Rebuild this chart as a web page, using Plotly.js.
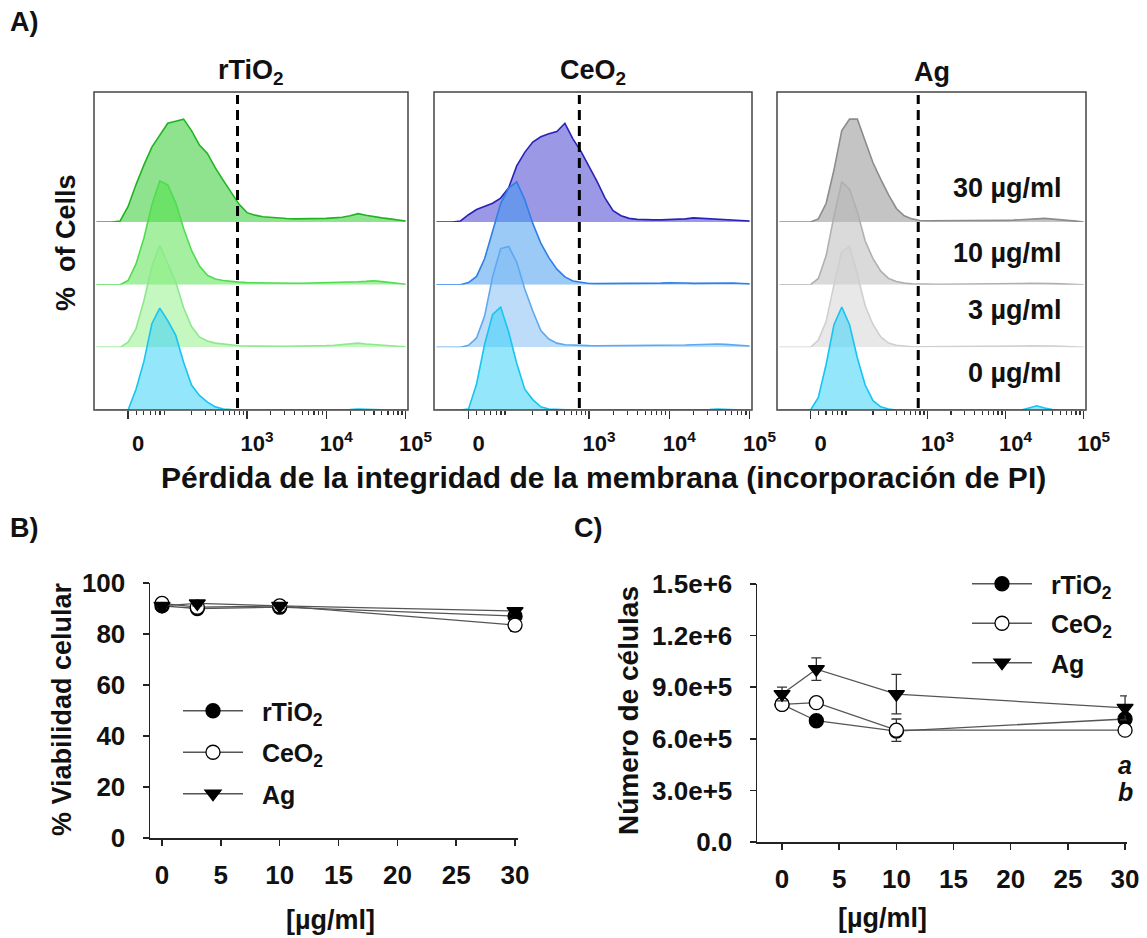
<!DOCTYPE html>
<html><head><meta charset="utf-8">
<script src="https://cdn.plot.ly/plotly-3.0.1.min.js"></script>
<style>html,body{margin:0;padding:0;background:#fff}#chart{width:1147px;height:938px}</style>
</head><body><div id="chart"></div>
<script>
// ---------- Panel A: PI histograms (mode-normalised counts) ----------
const binCenters = [1.1,1.2,1.3,1.4,1.5,1.6,1.7,1.8,1.9,2.0,2.1,2.2,2.3,2.4,2.5,2.6,2.7,2.8,2.9,3.0,3.1,3.2,3.3,3.4,3.5,3.6,3.7,3.8,3.9,4.0,4.1,4.2,4.3,4.4,4.5,4.6,4.7,4.8,4.9,5.0];
const histTickVals = [1.5, 3, 4, 5];
const histTickText = ["0", "10<sup>3</sup>", "10<sup>4</sup>", "10<sup>5</sup>"];
const gateValue = 2.88;
const doseLabels = ["30 µg/ml", "10 µg/ml", "3 µg/ml", "0 µg/ml"];
const materials = ["rTiO<sub>2</sub>", "CeO<sub>2</sub>", "Ag"];

const rTiO2_30 = [0,0,0,0.01,0.15,0.36,0.55,0.72,0.84,0.95,0.97,0.99,0.88,0.74,0.66,0.52,0.40,0.28,0.17,0.09,0.066,0.05,0.042,0.038,0.033,0.03,0.03,0.03,0.032,0.035,0.04,0.045,0.06,0.08,0.065,0.05,0.04,0.03,0.02,0.01];
const rTiO2_10 = [0,0,0,0,0.04,0.2,0.45,0.77,1.0,0.96,0.79,0.54,0.33,0.18,0.09,0.055,0.04,0.03,0.025,0.02,0.018,0.016,0.015,0.015,0.014,0.014,0.014,0.015,0.016,0.018,0.02,0.022,0.025,0.028,0.032,0.038,0.03,0.02,0.012,0.005];
const rTiO2_3  = [0,0,0,0,0.05,0.18,0.45,0.78,0.98,0.8,0.63,0.38,0.2,0.1,0.06,0.04,0.03,0.02,0.015,0.012,0.01,0.01,0.01,0.01,0.01,0.01,0.01,0.012,0.014,0.016,0.02,0.025,0.032,0.04,0.032,0.025,0.02,0.015,0.01,0.005];
const rTiO2_0  = [0,0,0,0,0,0.2,0.47,0.83,0.98,0.86,0.72,0.46,0.24,0.14,0.075,0.03,0.01,0.005,0,0,0,0,0,0,0,0,0,0,0,0,0,0,0.004,0.01,0.006,0.003,0,0,0,0];

const CeO2_30 = [0,0,0,0.01,0.07,0.12,0.15,0.18,0.23,0.33,0.54,0.67,0.77,0.82,0.85,0.87,0.95,0.8,0.68,0.54,0.39,0.23,0.11,0.06,0.035,0.025,0.02,0.02,0.02,0.022,0.025,0.03,0.04,0.035,0.03,0.028,0.025,0.02,0.015,0.01];
const CeO2_10 = [0,0,0,0,0.02,0.08,0.25,0.52,0.78,0.93,0.99,0.82,0.59,0.4,0.26,0.15,0.075,0.035,0.02,0.012,0.01,0.01,0.009,0.009,0.009,0.009,0.01,0.012,0.015,0.018,0.02,0.016,0.013,0.013,0.015,0.018,0.02,0.016,0.012,0.008];
const CeO2_3  = [0,0,0,0,0.02,0.09,0.3,0.68,0.95,0.97,0.82,0.56,0.35,0.16,0.08,0.04,0.025,0.02,0.018,0.016,0.015,0.015,0.015,0.015,0.015,0.015,0.015,0.015,0.015,0.018,0.02,0.022,0.025,0.028,0.03,0.032,0.028,0.022,0.018,0.012];
const CeO2_0  = [0,0,0,0,0.01,0.25,0.63,0.92,0.99,0.75,0.45,0.2,0.1,0.03,0.01,0.005,0,0,0,0,0,0,0,0,0,0,0,0,0,0,0,0,0,0,0.004,0.01,0.006,0,0,0];

const Ag_30 = [0,0,0,0,0,0.03,0.18,0.5,0.88,0.99,0.99,0.78,0.57,0.41,0.26,0.13,0.06,0.03,0.015,0.012,0.012,0.01,0.012,0.01,0.01,0.01,0.01,0.012,0.014,0.016,0.018,0.02,0.025,0.03,0.035,0.03,0.025,0.015,0.008,0];
const Ag_10 = [0,0,0,0,0,0.06,0.28,0.66,0.99,0.92,0.7,0.42,0.25,0.13,0.06,0.03,0.015,0.008,0.005,0.005,0.005,0.005,0.005,0.005,0.005,0.005,0.005,0.005,0.006,0.008,0.01,0.012,0.014,0.015,0.012,0.01,0.008,0.006,0.004,0];
const Ag_3  = [0,0,0,0,0,0.07,0.25,0.6,0.92,0.97,0.7,0.4,0.22,0.1,0.04,0.02,0.01,0.005,0.005,0.005,0.005,0.005,0.005,0.005,0.005,0.005,0.005,0.005,0.006,0.008,0.01,0.012,0.014,0.015,0.015,0.012,0.01,0.006,0.004,0];
const Ag_0  = [0,0,0,0,0,0.12,0.44,0.82,0.99,0.82,0.5,0.24,0.09,0.03,0.01,0,0,0,0,0,0,0,0,0,0,0,0,0,0,0,0,0,0.02,0.04,0.02,0.005,0,0,0,0];

// ---------- Panel B: viability ----------
const concentrations = [0, 3, 10, 30];
const viab_rTiO2 = [91, 90, 90.5, 87];
const viab_rTiO2_err = [1.5, 1.5, 1.5, 1.5];
const viab_CeO2 = [92, 90.5, 91, 83.5];
const viab_CeO2_err = [1, 1.5, 1.5, 2.5];
const viab_Ag = [91, 92, 91, 89];
const viab_Ag_err = [1, 1, 1, 1];
const viabTicks = [0, 20, 40, 60, 80, 100];
const concTicks = [0, 5, 10, 15, 20, 25, 30];

// ---------- Panel C: cell number ----------
const cells_rTiO2 = [800000, 705000, 645000, 715000];
const cells_rTiO2_err = [20000, 15000, 20000, 20000];
const cells_CeO2 = [800000, 810000, 650000, 650000];
const cells_CeO2_err = [20000, 20000, 65000, 10000];
const cells_Ag = [860000, 1005000, 860000, 780000];
const cells_Ag_err = [40000, 65000, 115000, 70000];
const cellTickVals = [0, 300000, 600000, 900000, 1200000, 1500000];
const cellTickText = ["0.0", "3.0e+5", "6.0e+5", "9.0e+5", "1.2e+6", "1.5e+6"];
const sigLetters = ["a", "b"];
const seriesNames = ["rTiO<sub>2</sub>", "CeO<sub>2</sub>", "Ag"];

// ---------- layout helpers (pixels -> paper) ----------
const W = 1147, H = 938;
const px = v => v / W;
const py = v => 1 - v / H;
const FONT = "Liberation Sans, Arial, sans-serif";
const bold = (size, color) => ({family: FONT, size: size, color: color || "#111", weight: "bold"});

const boxes = [[94, 408], [434, 752], [777, 1086]];
const boxTop = 92, boxBottom = 410;
const baselines = [222, 284.7, 347.3, 410];   // 30, 10, 3, 0 µg/ml rows
const peakPx = 106;

const histSets = [
  {data: [rTiO2_30, rTiO2_10, rTiO2_3, rTiO2_0],
   line: ["#1fb51f", "#4fdc4f", "#8ee88e", "#18c4f2"],
   fill: ["rgba(31,199,31,0.5)", "rgba(75,225,65,0.5)", "rgba(139,239,129,0.5)", "rgba(61,209,247,0.55)"]},
  {data: [CeO2_30, CeO2_10, CeO2_3, CeO2_0],
   line: ["#2a22b8", "#2f7fe8", "#5ea8f0", "#18c4f2"],
   fill: ["rgba(55,49,205,0.5)", "rgba(57,149,239,0.5)", "rgba(121,185,245,0.5)", "rgba(61,209,247,0.55)"]},
  {data: [Ag_30, Ag_10, Ag_3, Ag_0],
   line: ["#8c8c8c", "#b0b0b0", "#cfcfcf", "#18c4f2"],
   fill: ["rgba(137,137,137,0.5)", "rgba(181,181,181,0.5)", "rgba(209,209,209,0.5)", "rgba(61,209,247,0.55)"]}
];

const traces = [];
const layout = {
  width: W, height: H, margin: {l: 0, r: 0, t: 0, b: 0},
  paper_bgcolor: "#fff", plot_bgcolor: "rgba(0,0,0,0)",
  font: {family: FONT, color: "#111"},
  showlegend: true, shapes: [], annotations: []
};

// minor log ticks
const minorVals = [];
for (let k = 1; k <= 4; k++) for (let m = 2; m <= 9; m++) {
  const v = k + Math.log10(m);
  if (v > 1.55) minorVals.push(v);
}

let yIdx = 0;
histSets.forEach((set, p) => {
  const xName = p === 0 ? "x" : "x" + (p + 1);
  const xKey = p === 0 ? "xaxis" : "xaxis" + (p + 1);
  set.data.forEach((vals, r) => {
    yIdx++;
    const yName = yIdx === 1 ? "y" : "y" + yIdx;
    const yKey = yIdx === 1 ? "yaxis" : "yaxis" + yIdx;
    traces.push({
      type: "scatter", mode: "lines", x: binCenters, y: vals,
      xaxis: xName, yaxis: yName, fill: "tozeroy", fillcolor: set.fill[r],
      line: {color: set.line[r], width: 1.6}, showlegend: false, hoverinfo: "skip"
    });
    layout[yKey] = {
      domain: [py(baselines[r]), py(baselines[r] - peakPx)], range: [0, 1.02],
      anchor: xName, visible: false, fixedrange: true
    };
    if (r === 3) layout[xKey] = {
      domain: [px(boxes[p][0]), px(boxes[p][1])], range: [1.07, 5.03],
      anchor: yName, showgrid: false, zeroline: false, showline: false,
      ticks: "outside", ticklen: 8, tickwidth: 1.5, tickcolor: "#333",
      tickmode: "array", tickvals: histTickVals, ticktext: histTickText,
      ticklabelshift: 10, ticklabelstandoff: 6,
      tickfont: bold(22),
      minor: {tickmode: "array", tickvals: minorVals, ticks: "outside", ticklen: 4, tickwidth: 1.2, tickcolor: "#333"}
    };
  });
  layout.shapes.push({type: "rect", xref: "paper", yref: "paper",
    x0: px(boxes[p][0]), x1: px(boxes[p][1]), y0: py(boxBottom), y1: py(boxTop),
    line: {color: "#444", width: 1.5}});
  layout.shapes.push({type: "line", xref: xName, yref: "paper",
    x0: gateValue, x1: gateValue, y0: py(boxBottom - 2), y1: py(boxTop + 3),
    line: {color: "#000", width: 3, dash: "10px,6px"}});
});

// ---------- B and C ----------
const lineCol = "#555";
function series(x, y, err, name, symbol, fillc, xa, ya, leg, grp) {
  return {type: "scatter", mode: "lines+markers", x: x, y: y, name: "\u00a0\u00a0" + name,
    xaxis: xa, yaxis: ya, legend: leg, legendgroup: grp, cliponaxis: false,
    line: {color: lineCol, width: 1.3},
    marker: {symbol: symbol, size: 14, color: fillc, line: {color: "#000", width: 1.3}},
    error_y: {type: "data", array: err, visible: true, color: "#333", thickness: 1.3, width: 5}};
}
traces.push(series(concentrations, viab_rTiO2, viab_rTiO2_err, seriesNames[0], "circle", "#000", "x4", "y13", "legend", "b1"));
traces.push(series(concentrations, viab_CeO2, viab_CeO2_err, seriesNames[1], "circle", "#fff", "x4", "y13", "legend", "b2"));
traces.push(series(concentrations, viab_Ag, viab_Ag_err, seriesNames[2], "triangle-down", "#000", "x4", "y13", "legend", "b3"));
traces.push(series(concentrations, cells_rTiO2, cells_rTiO2_err, seriesNames[0], "circle", "#000", "x5", "y14", "legend2", "c1"));
traces.push(series(concentrations, cells_CeO2, cells_CeO2_err, seriesNames[1], "circle", "#fff", "x5", "y14", "legend2", "c2"));
traces.push(series(concentrations, cells_Ag, cells_Ag_err, seriesNames[2], "triangle-down", "#000", "x5", "y14", "legend2", "c3"));

const axBase = {showgrid: false, zeroline: false, showline: true, linecolor: "#222", linewidth: 1.5,
  ticks: "outside", ticklen: 6, tickwidth: 1.5, tickcolor: "#222", tickfont: bold(26), fixedrange: true};
layout.xaxis4 = Object.assign({}, axBase, {domain: [px(150), px(518)], range: [-1.02, 30.25], anchor: "y13",
  tickmode: "array", tickvals: concTicks, ticklabelstandoff: 7});
layout.yaxis13 = Object.assign({}, axBase, {domain: [py(838), py(583)], range: [0, 100], anchor: "x4",
  tickmode: "array", tickvals: viabTicks, ticklabelstandoff: 12});
layout.xaxis5 = Object.assign({}, axBase, {domain: [px(757), px(1127)], range: [-2.19, 30.17], anchor: "y14",
  tickmode: "array", tickvals: concTicks, ticklabelstandoff: 7});
layout.yaxis14 = Object.assign({}, axBase, {domain: [py(842), py(584)], range: [0, 1500000], anchor: "x5",
  tickmode: "array", tickvals: cellTickVals, ticktext: cellTickText, ticklabelstandoff: 12});

const legBase = {bgcolor: "rgba(0,0,0,0)", font: bold(25), itemwidth: 60, traceorder: "grouped",
  tracegroupgap: 6, xanchor: "left", yanchor: "top", itemsizing: "trace"};
layout.legend = Object.assign({}, legBase, {x: px(178), y: py(688)});
layout.legend2 = Object.assign({}, legBase, {x: px(967), y: py(561), tracegroupgap: 4});

// text labels
const ann = (text, x, y, size, extra) => layout.annotations.push(Object.assign({text: text, x: px(x), y: py(y),
  xref: "paper", yref: "paper", xanchor: "center", yanchor: "middle", showarrow: false, font: bold(size)}, extra || {}));
materials.forEach((m, p) => ann(m, (boxes[p][0] + boxes[p][1]) / 2, 72, 27));
const doseY = [188, 253, 310, 373];
doseLabels.forEach((t, i) => ann(t, 1064, doseY[i], 27, {xanchor: "right"}));
ann("A)", 24, 22, 27);
ann("B)", 24, 528, 27);
ann("C)", 588, 528, 27);
ann("%  of Cells", 66, 243, 27, {textangle: -90});
ann("Pérdida de la integridad de la membrana (incorporación de PI)", 603, 477, 30);
ann("% Viabilidad celular", 62, 709, 27, {textangle: -90});
ann("[µg/ml]", 330, 920, 27);
ann("Número de células", 628, 711, 28, {textangle: -90});
ann("[µg/ml]", 882, 918, 27);
const italicBold = {family: FONT, size: 25, color: "#111", weight: "bold", style: "italic"};
layout.annotations.push({text: sigLetters[0], x: 30, y: 450000, xref: "x5", yref: "y14", showarrow: false,
  xanchor: "center", yanchor: "middle", font: italicBold});
layout.annotations.push({text: sigLetters[1], x: 30, y: 290000, xref: "x5", yref: "y14", showarrow: false,
  xanchor: "center", yanchor: "middle", font: italicBold});

Plotly.newPlot("chart", traces, layout, {staticPlot: true, displayModeBar: false});
</script></body></html>
